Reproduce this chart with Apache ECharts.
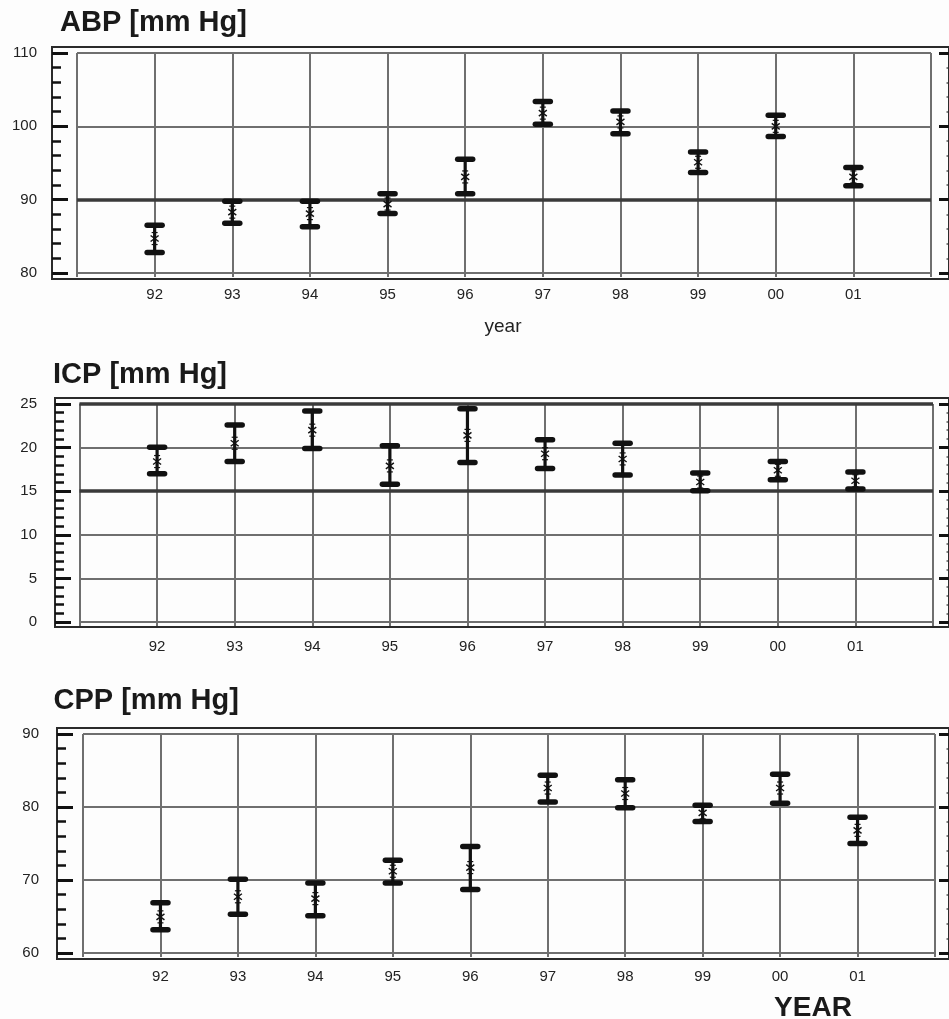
<!DOCTYPE html>
<html><head><meta charset="utf-8">
<script src="https://cdn.jsdelivr.net/npm/echarts@6/dist/echarts.min.js"></script>
<style>html,body{margin:0;padding:0;background:#fdfdfd}#c{width:949px;height:1019px}</style>
</head><body><div id="c"></div>
<script>
// ---- data ----
const yearValues = [92, 93, 94, 95, 96, 97, 98, 99, 100, 101];
const yearLabels = ['92', '93', '94', '95', '96', '97', '98', '99', '00', '01'];

const abpLow  = [82.8, 86.8, 86.3, 88.1, 90.8, 100.3, 99.0, 93.7, 98.6, 91.9];
const abpHigh = [86.5, 89.8, 89.8, 90.8, 95.5, 103.4, 102.1, 96.5, 101.5, 94.4];
const abpMean = [84.7, 88.3, 88.1, 89.4, 93.1, 101.8, 100.6, 95.1, 100.0, 93.1];

const icpLow  = [17.0, 18.4, 19.9, 15.8, 18.3, 17.6, 16.85, 15.05, 16.3, 15.25];
const icpHigh = [20.05, 22.6, 24.2, 20.2, 24.45, 20.9, 20.5, 17.1, 18.4, 17.2];
const icpMean = [18.4, 20.5, 22.0, 17.9, 21.4, 19.3, 18.7, 16.05, 17.4, 16.2];

const cppLow  = [63.2, 65.3, 65.1, 69.6, 68.7, 80.7, 79.9, 78.0, 80.5, 75.0];
const cppHigh = [66.9, 70.1, 69.6, 72.7, 74.6, 84.35, 83.75, 80.25, 84.5, 78.6];
const cppMean = [64.95, 67.7, 67.45, 71.2, 71.7, 82.6, 81.85, 79.2, 82.6, 76.8];

const abpTicks = {min: 80, max: 110, interval: 10};
const icpTicks = {min: 0, max: 25, interval: 5};
const cppTicks = {min: 60, max: 90, interval: 10};
const xRange = {min: 91, max: 102};

const abpRefLines = [90];
const icpRefLines = [15, 25];
const cppRefLines = [];

const titles = ['ABP [mm Hg]', 'ICP [mm Hg]', 'CPP [mm Hg]'];

// ---- layout ----
const panels = [
  {name: titles[0], low: abpLow, high: abpHigh, mean: abpMean, ticks: abpTicks, refs: abpRefLines,
   frame: {left: 52, top: 47, height: 232}, inner: {left: 77, top: 53, width: 854, height: 220},
   titleY: 22.5, titleX: 60, xMargin: 14, yMargin: 15},
  {name: titles[1], low: icpLow, high: icpHigh, mean: icpMean, ticks: icpTicks, refs: icpRefLines,
   frame: {left: 55, top: 398, height: 229}, inner: {left: 79.5, top: 404, width: 853.5, height: 218},
   titleY: 374.5, titleX: 53, xMargin: 17, yMargin: 18},
  {name: titles[2], low: cppLow, high: cppHigh, mean: cppMean, ticks: cppTicks, refs: cppRefLines,
   frame: {left: 57, top: 728, height: 231}, inner: {left: 83, top: 734, width: 852, height: 219},
   titleY: 701, titleX: 53.5, xMargin: 16, yMargin: 18}
];
const FRAME_RIGHT = 957;
const FONT = '"Liberation Sans", Arial, Helvetica, sans-serif';
const GRIDC = '#6f6f6f';

function renderBar(params, api) {
  const x = api.value(0), lo = api.value(1), hi = api.value(2), mn = api.value(3);
  const pLo = api.coord([x, lo]), pHi = api.coord([x, hi]), pM = api.coord([x, mn]);
  const cw = 7.5;
  const ink = '#111';
  return {
    type: 'group',
    children: [
      {type: 'line', shape: {x1: pLo[0], y1: pLo[1], x2: pHi[0], y2: pHi[1]}, style: {stroke: ink, lineWidth: 3.2}},
      {type: 'line', shape: {x1: pHi[0] - cw, y1: pHi[1], x2: pHi[0] + cw, y2: pHi[1]}, style: {stroke: ink, lineWidth: 5.5, lineCap: 'round'}},
      {type: 'line', shape: {x1: pLo[0] - cw, y1: pLo[1], x2: pLo[0] + cw, y2: pLo[1]}, style: {stroke: ink, lineWidth: 5.5, lineCap: 'round'}},
      {type: 'line', shape: {x1: pM[0] - 4, y1: pM[1] - 3, x2: pM[0] + 4, y2: pM[1] + 3}, style: {stroke: ink, lineWidth: 1.4}},
      {type: 'line', shape: {x1: pM[0] - 4, y1: pM[1] + 3, x2: pM[0] + 4, y2: pM[1] - 3}, style: {stroke: ink, lineWidth: 1.4}},
      {type: 'line', shape: {x1: pM[0] - 3, y1: pM[1] - 6, x2: pM[0] + 3, y2: pM[1] - 6}, style: {stroke: ink, lineWidth: 1.2}},
      {type: 'line', shape: {x1: pM[0] - 3, y1: pM[1] + 6, x2: pM[0] + 3, y2: pM[1] + 6}, style: {stroke: ink, lineWidth: 1.2}}
    ]
  };
}

const grid = [], xAxis = [], yAxis = [], series = [], graphic = [];
panels.forEach((p, i) => {
  const fg = grid.length;
  grid.push({show: true, left: p.frame.left, top: p.frame.top, width: FRAME_RIGHT - p.frame.left, height: p.frame.height,
    borderColor: '#2a2a2a', borderWidth: 2, backgroundColor: 'transparent'});
  const ig = grid.length;
  grid.push({show: false, left: p.inner.left, top: p.inner.top, width: p.inner.width, height: p.inner.height});

  xAxis.push({type: 'value', gridIndex: fg, show: false, min: 0, max: 1});
  const xi = xAxis.length;
  xAxis.push({type: 'value', gridIndex: ig, min: xRange.min, max: xRange.max, interval: 1,
    axisLine: {show: false},
    axisTick: {show: true, length: 4, lineStyle: {color: GRIDC, width: 2}},
    splitLine: {show: true, lineStyle: {color: GRIDC, width: 2}},
    axisLabel: {margin: p.xMargin, fontSize: 15, color: '#222', fontFamily: FONT,
      formatter: v => { const k = yearValues.indexOf(Math.round(v)); return k >= 0 ? yearLabels[k] : ''; }}
  });

  yAxis.push({type: 'value', gridIndex: fg, show: false, min: 0, max: 1});
  const yi = yAxis.length;
  const leftOffset = p.inner.left - p.frame.left;
  yAxis.push({type: 'value', gridIndex: ig, position: 'left', offset: leftOffset,
    min: p.ticks.min, max: p.ticks.max, interval: p.ticks.interval,
    axisLine: {show: false},
    axisTick: {show: true, inside: true, length: 16, lineStyle: {color: '#111', width: 3}},
    minorTick: {show: true, splitNumber: 5, length: 9, lineStyle: {color: '#111', width: 2.5}},
    splitLine: {show: true, lineStyle: {color: GRIDC, width: 2}},
    axisLabel: {margin: p.yMargin, fontSize: 15, color: '#222', fontFamily: FONT}
  });
  const rightOffset = FRAME_RIGHT - (p.inner.left + p.inner.width);
  yAxis.push({type: 'value', gridIndex: ig, position: 'right', offset: rightOffset,
    min: p.ticks.min, max: p.ticks.max, interval: p.ticks.interval,
    axisLine: {show: false},
    axisTick: {show: true, inside: true, length: 18, lineStyle: {color: '#111', width: 3}},
    minorTick: {show: true, splitNumber: 5, length: 11, lineStyle: {color: '#555', width: 1.5, type: 'dotted'}},
    splitLine: {show: false},
    axisLabel: {show: false}
  });

  const data = yearValues.map((y, k) => [y, p.low[k], p.high[k], p.mean[k]]);
  series.push({
    type: 'custom', xAxisIndex: xi, yAxisIndex: yi, renderItem: renderBar, data: data, silent: true, z: 5,
    markLine: p.refs.length ? {silent: true, symbol: 'none', label: {show: false},
      lineStyle: {color: '#3a3a3a', width: 3.5, type: 'solid'},
      data: p.refs.map(v => ({yAxis: v}))} : undefined
  });

  graphic.push({type: 'text', x: p.titleX, y: p.titleY,
    style: {text: p.name, font: 'bold 29px ' + FONT, fill: '#1a1a1a', align: 'left', verticalAlign: 'middle'}});
});

graphic.push({type: 'text', x: 503, y: 327,
  style: {text: 'year', font: '19px ' + FONT, fill: '#222', align: 'center', verticalAlign: 'middle'}});
graphic.push({type: 'text', x: 813, y: 1008,
  style: {text: 'YEAR', font: 'bold 28px ' + FONT, fill: '#1a1a1a', align: 'center', verticalAlign: 'middle'}});

const chart = echarts.init(document.getElementById('c'), null, {renderer: 'canvas'});
chart.setOption({
  backgroundColor: '#fdfdfd',
  animation: false,
  grid, xAxis, yAxis, series, graphic
});
</script>
</body></html>
